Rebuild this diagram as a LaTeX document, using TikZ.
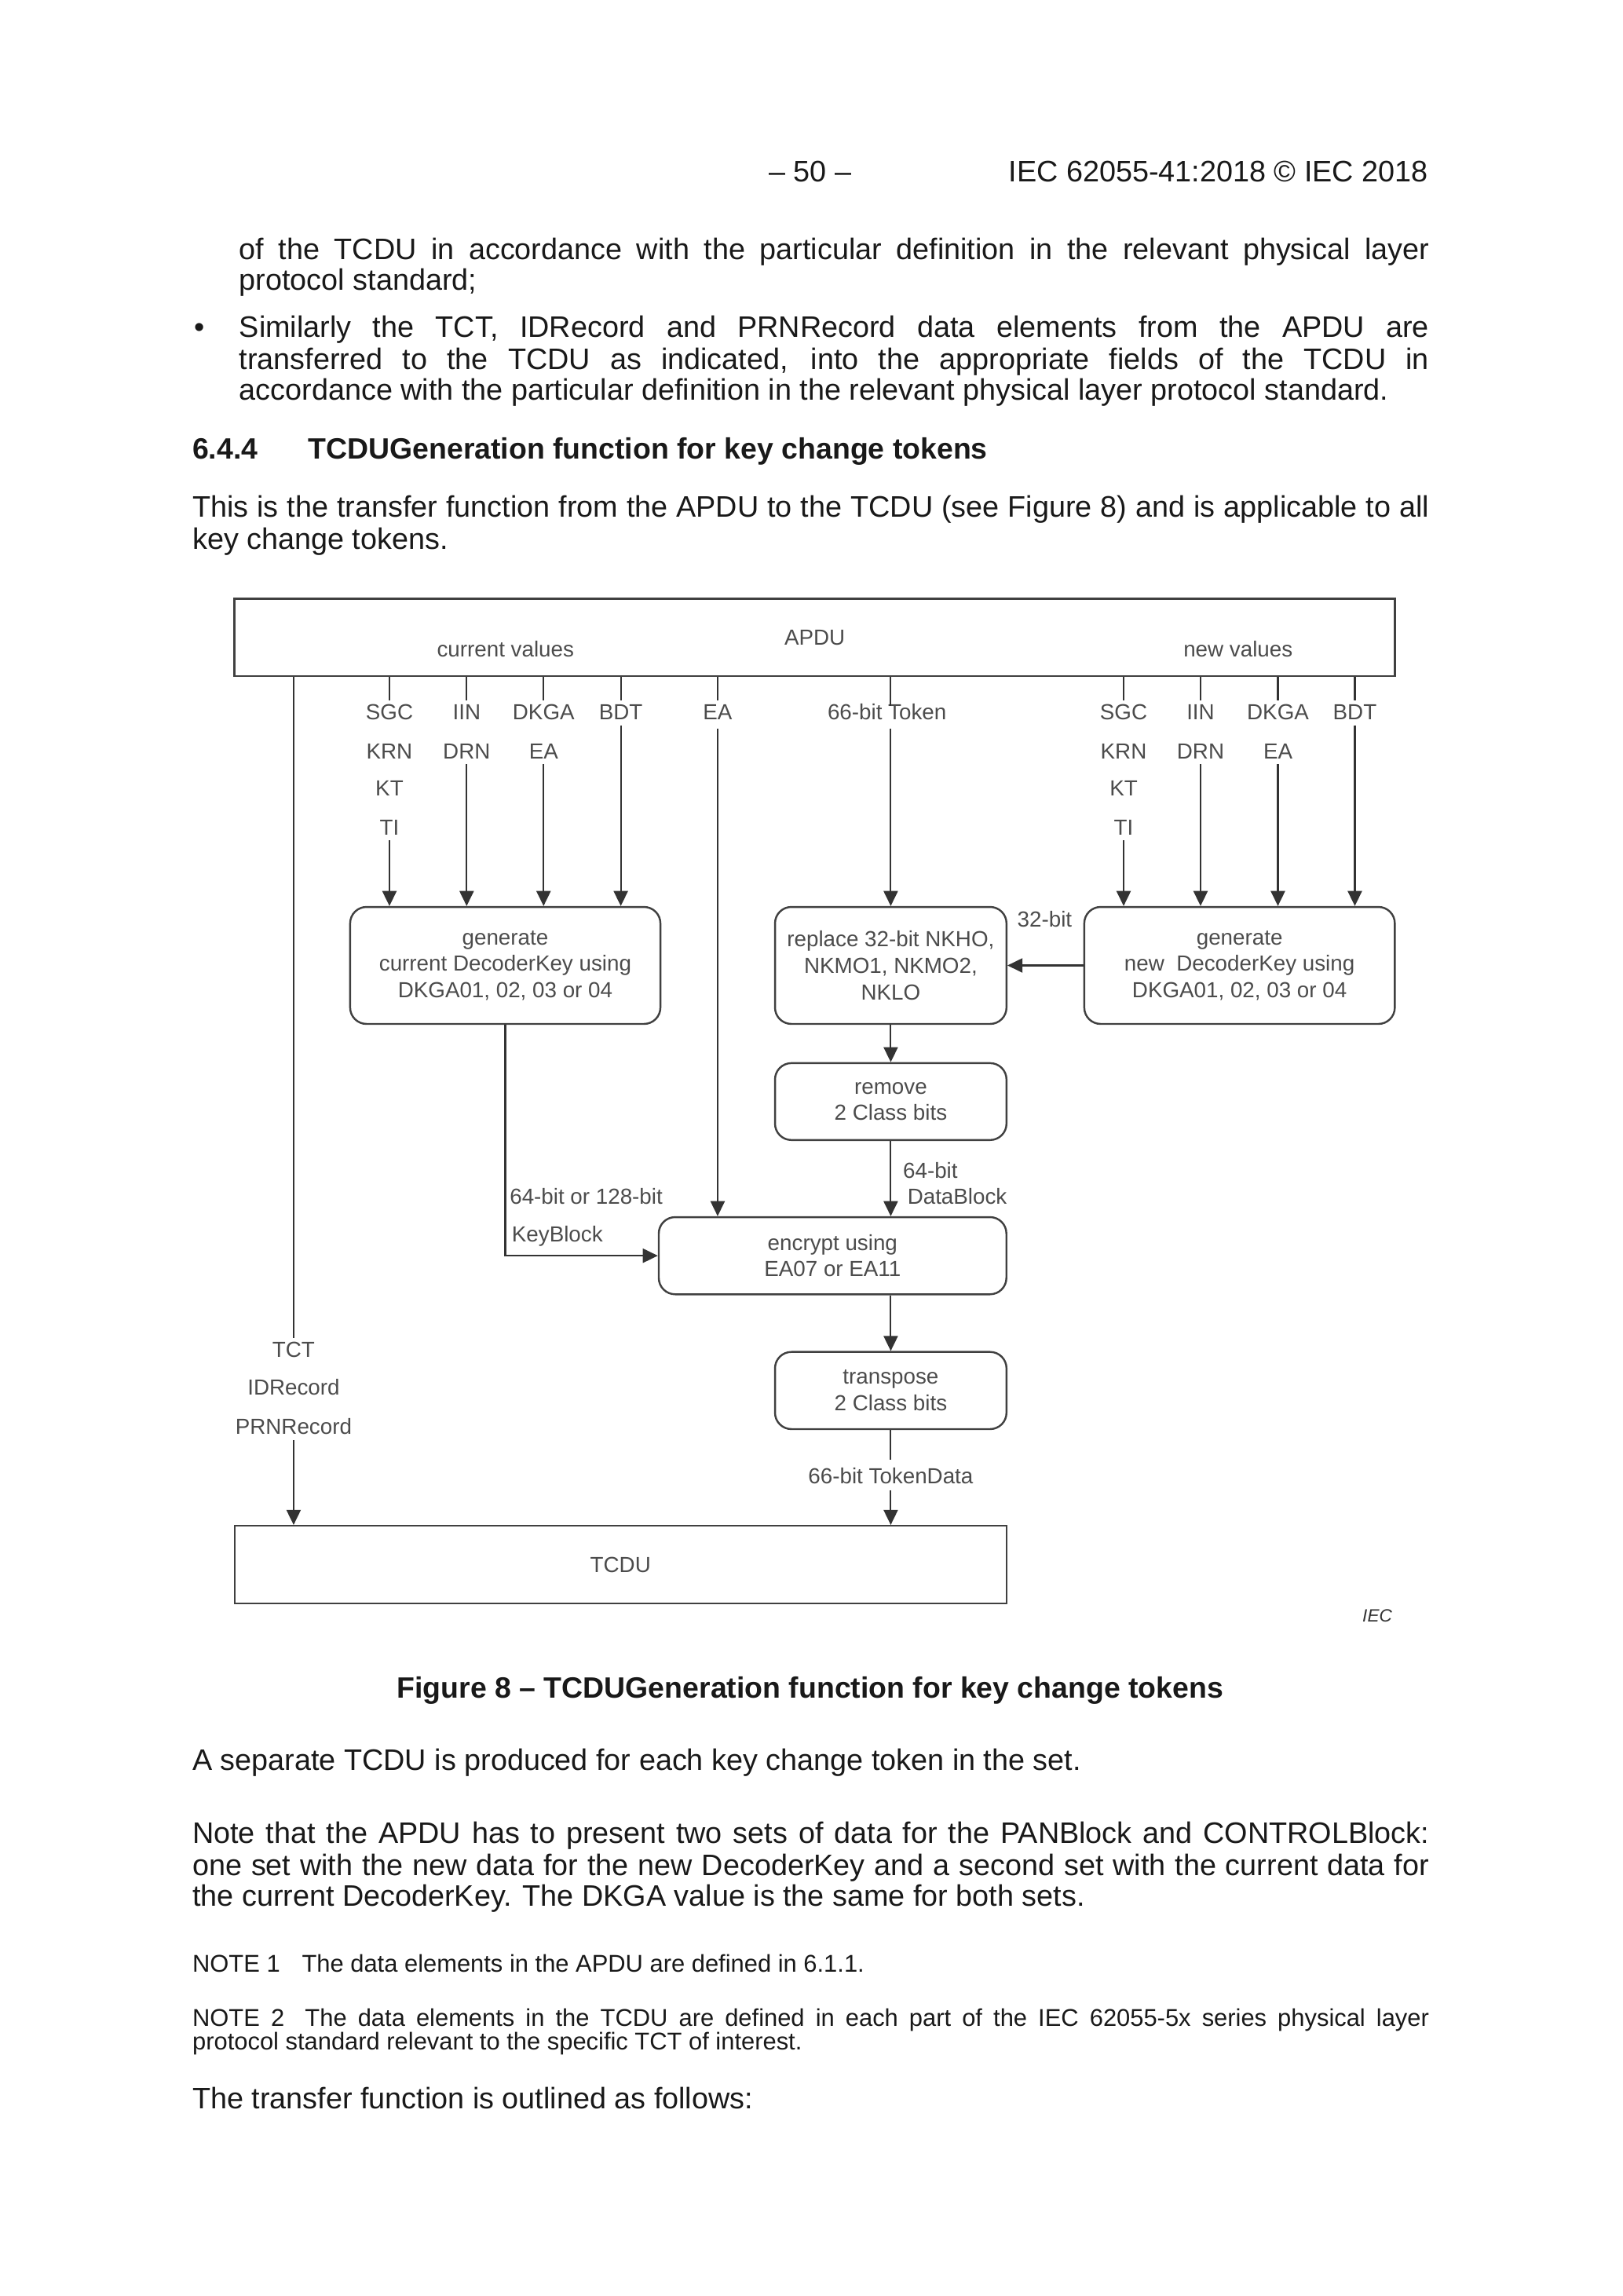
\documentclass[tikz,border=0pt]{standalone}
\usepackage{fontspec}
\setmainfont{Liberation Sans}
\usetikzlibrary{arrows.meta}
\newcommand{\bodyf}{\fontsize{10.88}{11.5}\selectfont}
\newcommand{\headf}{\fontsize{10.78}{11.5}\selectfont\bfseries}
\newcommand{\notef}{\fontsize{8.9}{9.5}\selectfont}
\newcommand{\diagf}{\fontsize{8}{9.67}\selectfont}
\newcommand{\jl}[2]{\makebox[#1][s]{#2}}
\begin{document}
\begin{tikzpicture}[x=0.5374pt,y=-0.5374pt,
  ln/.style={line width=0.6pt, draw=black!80},
  arr/.style={ln, -{Triangle[length=5.5pt,width=5.2pt]}},
  sqbox/.style={draw=black!75, line width=0.7pt, inner sep=0pt, font=\diagf, text=black!70},
  rbox/.style={sqbox, rounded corners=6pt, align=center},
  lbl/.style={font=\diagf, text=black!70, inner sep=0pt, text height=5.8pt, text depth=0pt},
  ptext/.style={font=\bodyf, text=black!90, inner sep=0pt, anchor=base west},
  ntext/.style={ptext, font=\notef}]
\useasboundingbox (0,0) rectangle (1107.7,1567);
\fill[white] (0,0) rectangle (1107.7,1567);

% ---------- page text ----------
\node[ptext, anchor=base] (hdr1) at (553,124) {– 50 –};
\node[ptext, anchor=base east] (hdr2) at (975,124) {IEC 62055-41:2018 © IEC 2018};
\node[ptext] (p1) at (163,177) {\jl{436.4pt}{of the TCDU in accordance with the particular definition in the relevant physical layer}};
\node[ptext] (p2) at (163,198) {protocol standard;};
\node[ptext, anchor=base] (bul) at (136,230) {•};
\node[ptext] (p3) at (163,230) {\jl{436.4pt}{Similarly the TCT, IDRecord and PRNRecord data elements from the APDU are}};
\node[ptext] (p4) at (163,252) {\jl{436.4pt}{transferred to the TCDU as indicated, into the appropriate fields of the TCDU in}};
\node[ptext] (p5) at (163,273) {accordance with the particular definition in the relevant physical layer protocol standard.};
\node[ptext, font=\headf] (h1) at (131,313) {6.4.4};
\node[ptext, font=\headf] (h2) at (210,313) {TCDUGeneration function for key change tokens};
\node[ptext] (p6) at (131,353) {\jl{453.6pt}{This is the transfer function from the APDU to the TCDU (see Figure 8) and is applicable to all}};
\node[ptext] (p7) at (131,375) {key change tokens.};

\node[ptext, font=\headf, anchor=base] (cap) at (553,1159) {Figure 8 – TCDUGeneration function for key change tokens};
\node[ptext] (p8) at (131,1208) {A separate TCDU is produced for each key change token in the set.};
\node[ptext] (p9) at (131,1258) {\jl{453.6pt}{Note that the APDU has to present two sets of data for the PANBlock and CONTROLBlock:}};
\node[ptext] (p10) at (131,1280) {\jl{453.6pt}{one set with the new data for the new DecoderKey and a second set with the current data for}};
\node[ptext] (p11) at (131,1301) {the current DecoderKey. The DKGA value is the same for both sets.};
\node[ntext] (n1) at (131,1346) {NOTE 1\hspace{8pt}The data elements in the APDU are defined in 6.1.1.};
\node[ntext] (n2) at (131,1383) {\jl{453.6pt}{NOTE 2\hspace{3.5pt} The data elements in the TCDU are defined in each part of the IEC 62055-5x series physical layer}};
\node[ntext] (n3) at (131,1399) {protocol standard relevant to the specific TCT of interest.};
\node[ptext] (p12) at (131,1439) {The transfer function is outlined as follows:};

% ---------- diagram boxes ----------
\node[sqbox, minimum width=425.6pt, minimum height=28.3pt] (apdu) at (556.05,435.05) {APDU};
\node[lbl] (curv) at (345,443) {current values};
\node[lbl] (newv) at (845,443) {new values};
\node[sqbox, minimum width=283.1pt, minimum height=28.4pt] (tcdu) at (423.5,1067.8) {TCDU};

\node[rbox, minimum width=113.8pt, minimum height=42.9pt] (genL) at (344.85,658.9) {generate\\current DecoderKey using\\DKGA01, 02, 03 or 04};
\node[rbox, minimum width=84.9pt, minimum height=42.9pt] (replace) at (607.95,658.9) {replace 32-bit NKHO,\\NKMO1, NKMO2,\\NKLO};
\node[rbox, minimum width=113.9pt, minimum height=42.9pt] (genR) at (846,658.9) {generate\\new\ \ DecoderKey using\\DKGA01, 02, 03 or 04};
\node[rbox, minimum width=84.9pt, minimum height=28.2pt] (remove) at (607.95,751.8) {remove\\2 Class bits};
\node[rbox, minimum width=127.5pt, minimum height=28.3pt] (encrypt) at (568.25,857) {encrypt using\\EA07 or EA11};
\node[rbox, minimum width=84.9pt, minimum height=28.3pt] (transpose) at (607.95,949) {transpose\\2 Class bits};

% ---------- labels: left group ----------
\node[lbl] (sgcA) at (265.8,485.9) {SGC};
\node[lbl] (krnA) at (265.8,512.3) {KRN};
\node[lbl] (ktA)  at (265.8,538) {KT};
\node[lbl] (tiA)  at (265.8,564.3) {TI};
\node[lbl] (iinA) at (318.5,485.9) {IIN};
\node[lbl] (drnA) at (318.5,512.3) {DRN};
\node[lbl] (dkgaA) at (371,485.9) {DKGA};
\node[lbl] (eaA)  at (371,512.3) {EA};
\node[lbl] (bdtA) at (423.7,485.9) {BDT};
% right group
\node[lbl] (sgcB) at (766.9,485.9) {SGC};
\node[lbl] (krnB) at (766.9,512.3) {KRN};
\node[lbl] (ktB)  at (766.9,538) {KT};
\node[lbl] (tiB)  at (766.9,564.3) {TI};
\node[lbl] (iinB) at (819.4,485.9) {IIN};
\node[lbl] (drnB) at (819.4,512.3) {DRN};
\node[lbl] (dkgaB) at (872.2,485.9) {DKGA};
\node[lbl] (eaB)  at (872.2,512.3) {EA};
\node[lbl] (bdtB) at (924.7,485.9) {BDT};
% middle
\node[lbl] (eaM) at (489.8,485.9) {EA};
\node[lbl] (tok) at (605.4,485.9) {66-bit Token};
\node[lbl] (b32) at (713,627.4) {32-bit};
\node[lbl, anchor=west] (b64) at (616,798.5) {64-bit};
\node[lbl, anchor=west] (dblk) at (619,816.3) {DataBlock};
\node[lbl, anchor=west] (kb1) at (347.6,816.2) {64-bit or 128-bit};
\node[lbl, anchor=west] (kb2) at (349,842.3) {KeyBlock};
\node[lbl] (td) at (607.95,1007.1) {66-bit TokenData};
\node[lbl] (tct) at (200.4,920.8) {TCT};
\node[lbl] (idr) at (200.4,946.8) {IDRecord};
\node[lbl] (prn) at (200.4,973.6) {PRNRecord};
\node[font=\fontsize{6.5}{7}\selectfont\itshape, text=black!80, inner sep=0pt] (iec) at (940,1103) {IEC};

% ---------- connectors ----------
\foreach \top in {sgcA, iinA, dkgaA, bdtA, sgcB, iinB, dkgaB, bdtB}{
  \draw[ln, shorten >=1pt] (apdu.south -| \top) -- (\top.north);
}
\foreach \bot in {tiA, drnA, eaA, bdtA}{
  \draw[arr, shorten <=1.8pt] (\bot.south) -- (genL.north -| \bot);
}
\foreach \bot in {tiB, drnB, eaB, bdtB}{
  \draw[arr, shorten <=1.8pt] (\bot.south) -- (genR.north -| \bot);
}
\draw[ln, shorten >=1pt] (apdu.south -| eaM) -- (eaM.north);
\draw[arr, shorten <=2.9pt] (eaM.south) -- (encrypt.north -| eaM);
\draw[ln, shorten >=-1pt] (apdu.south -| replace.north) -- (tok.north -| replace.north);
\draw[arr, shorten <=2.9pt] (tok.south -| replace.north) -- (replace.north);
\draw[arr] (genR.west) -- (replace.east);
\draw[arr] (replace.south) -- (remove.north);
\draw[arr] (remove.south) -- (encrypt.north -| remove.south);
\draw[arr] (genL.south) |- (encrypt.west);
\draw[arr] (encrypt.south -| transpose.north) -- (transpose.north);
\draw[ln, shorten >=2.6pt] (transpose.south) -- (td.north);
\draw[arr, shorten <=2.2pt] (td.south) -- (tcdu.north -| td);
\draw[ln, shorten >=1pt] (apdu.south -| tct) -- (tct.north);
\draw[arr, shorten <=1.8pt] (prn.south) -- (tcdu.north -| prn);
\end{tikzpicture}
\end{document}
